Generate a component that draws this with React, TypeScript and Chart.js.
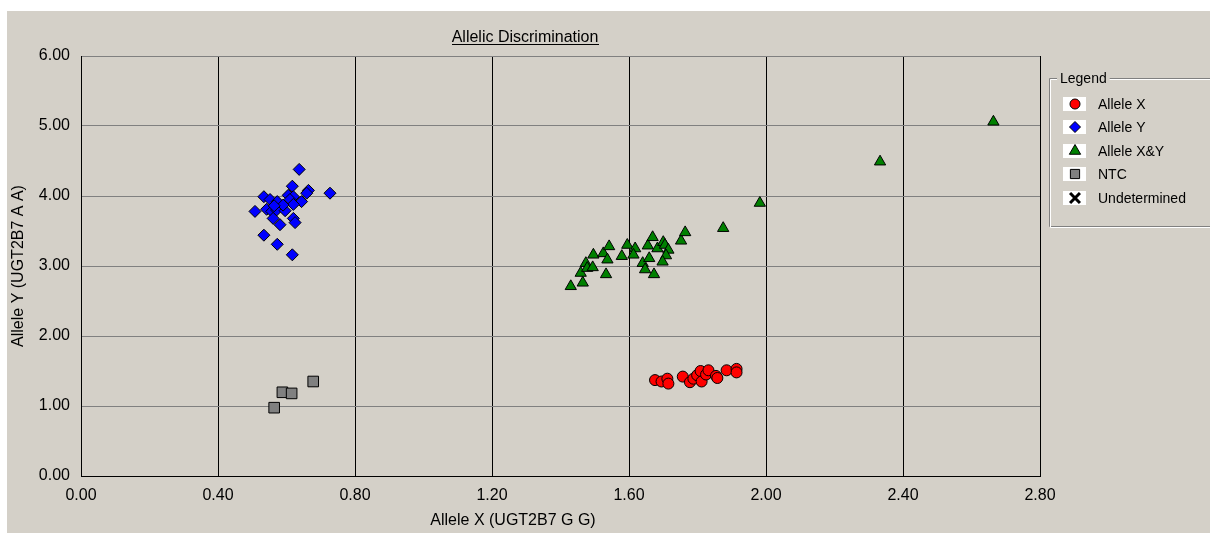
import React, { useEffect, useRef } from 'react';
import { Chart, registerables } from 'chart.js';
import { drawPoint } from 'chart.js/helpers';

Chart.register(...registerables);

const CHART_TITLE = 'Allelic Discrimination';
const X_TITLE = 'Allele X (UGT2B7 G G)';
const Y_TITLE = 'Allele Y (UGT2B7 A A)';
const LEGEND_TITLE = 'Legend';
const SERIES_NAMES = ['Allele X', 'Allele Y', 'Allele X&Y', 'NTC', 'Undetermined'];

const X_TICKS = [0, 0.4, 0.8, 1.2, 1.6, 2.0, 2.4, 2.8];
const X_TICK_LABELS = ['0.00', '0.40', '0.80', '1.20', '1.60', '2.00', '2.40', '2.80'];
const Y_TICKS = [0, 1, 2, 3, 4, 5, 6];
const Y_TICK_LABELS = ['0.00', '1.00', '2.00', '3.00', '4.00', '5.00', '6.00'];

// Allele X (red circles)
const alleleX_x = [1.676, 1.695, 1.712, 1.715, 1.757, 1.778, 1.788, 1.799, 1.809, 1.812, 1.825, 1.832, 1.854, 1.858, 1.885, 1.914, 1.914];
const alleleX_y = [1.37, 1.35, 1.39, 1.32, 1.42, 1.34, 1.39, 1.44, 1.50, 1.35, 1.45, 1.51, 1.43, 1.40, 1.51, 1.53, 1.48];

// Allele Y (blue diamonds)
const alleleY_x = [0.637, 0.727, 0.617, 0.664, 0.659, 0.534, 0.552, 0.573, 0.605, 0.620, 0.610, 0.644, 0.620, 0.508, 0.542, 0.557, 0.571, 0.596, 0.561, 0.581, 0.620, 0.625, 0.534, 0.573, 0.617, 0.590, 0.564];
const alleleY_y = [4.38, 4.04, 4.14, 4.08, 4.04, 3.99, 3.95, 3.92, 4.01, 3.99, 3.95, 3.92, 3.88, 3.78, 3.81, 3.78, 3.80, 3.79, 3.68, 3.59, 3.68, 3.62, 3.44, 3.31, 3.16, 3.87, 3.86];

// Allele X&Y (green triangles)
const alleleXY_x = [1.430, 1.465, 1.459, 1.474, 1.478, 1.494, 1.496, 1.533, 1.525, 1.542, 1.537, 1.579, 1.595, 1.618, 1.613, 1.640, 1.647, 1.659, 1.655, 1.669, 1.673, 1.683, 1.700, 1.705, 1.715, 1.708, 1.698, 1.752, 1.764, 1.875, 1.982, 2.333, 2.664];
const alleleXY_y = [2.71, 2.76, 2.90, 3.04, 2.97, 2.98, 3.16, 2.88, 3.18, 3.28, 3.09, 3.14, 3.30, 3.25, 3.16, 3.04, 2.95, 3.11, 3.29, 3.41, 2.88, 3.25, 3.34, 3.30, 3.23, 3.15, 3.06, 3.36, 3.48, 3.54, 3.90, 4.49, 5.06];

// NTC (grey squares)
const ntc_x = [0.564, 0.588, 0.615, 0.678];
const ntc_y = [0.976, 1.196, 1.18, 1.35];

// Undetermined (none)
const undet_x: number[] = [];
const undet_y: number[] = [];

const pts = (xs: number[], ys: number[]) => xs.map((x, i) => ({ x, y: ys[i] }));

const FONT = '"Liberation Sans", Arial, sans-serif';

const decorPlugin = {
  id: 'decor',
  afterDraw(chart: any) {
    const ctx = chart.ctx as CanvasRenderingContext2D;
    ctx.save();
    ctx.fillStyle = '#000';
    // Title (underlined)
    ctx.font = `16px ${FONT}`;
    ctx.textAlign = 'center';
    ctx.textBaseline = 'alphabetic';
    const tcx = 518, tby = 31;
    ctx.fillText(CHART_TITLE, tcx, tby);
    const tw = ctx.measureText(CHART_TITLE).width;
    ctx.fillRect(Math.round(tcx - tw / 2), tby + 2, Math.round(tw), 1);

    // Axis titles
    ctx.textBaseline = 'middle';
    ctx.fillText(X_TITLE, 506, 510);
    ctx.save();
    ctx.translate(12, 255);
    ctx.rotate(-Math.PI / 2);
    ctx.fillText(Y_TITLE, 0, 0);
    ctx.restore();

    // Legend group box
    const lx = 1042, ly = 67, lb = 215, lr = 1215;
    ctx.font = `14px ${FONT}`;
    const ltw = ctx.measureText(LEGEND_TITLE).width;
    const gapL = 1050, gapR = 1053 + ltw + 3;
    const etch = (color: string, o: number) => {
      ctx.strokeStyle = color;
      ctx.lineWidth = 1;
      ctx.beginPath();
      ctx.moveTo(gapL, ly + o + 0.5);
      ctx.lineTo(lx + o + 0.5, ly + o + 0.5);
      ctx.lineTo(lx + o + 0.5, lb + o + 0.5);
      ctx.lineTo(lr, lb + o + 0.5);
      ctx.moveTo(gapR, ly + o + 0.5);
      ctx.lineTo(lr, ly + o + 0.5);
      ctx.stroke();
    };
    etch('#808080', 0);
    etch('#ffffff', 1);
    ctx.fillStyle = '#000';
    ctx.textAlign = 'left';
    ctx.textBaseline = 'middle';
    ctx.fillText(LEGEND_TITLE, 1053, ly + 1);

    const rows = [93, 116, 140, 163, 187];
    chart.data.datasets.forEach((ds: any, i: number) => {
      const y = rows[i];
      ctx.fillStyle = '#ffffff';
      ctx.fillRect(1056, y - 7, 23, 14);
      ctx.fillStyle = ds.backgroundColor;
      ctx.strokeStyle = ds.borderColor;
      ctx.lineWidth = ds.borderWidth;
      drawPoint(ctx, { pointStyle: ds.pointStyle, rotation: 0, radius: ds.legendRadius, borderWidth: ds.borderWidth }, 1068, y);
      ctx.fillStyle = '#000';
      ctx.font = `14px ${FONT}`;
      ctx.fillText(ds.label, 1091, y + 1);
    });
    ctx.restore();
  },
};

export default function App() {
  const ref = useRef<HTMLCanvasElement>(null);
  useEffect(() => {
    if (!ref.current) return;
    const chart = new Chart(ref.current, {
      type: 'scatter',
      data: {
        datasets: [
          { label: SERIES_NAMES[0], data: pts(alleleX_x, alleleX_y), pointStyle: 'circle', pointRadius: 5.5, backgroundColor: '#ff0000', borderColor: '#000', borderWidth: 1, legendRadius: 5 } as any,
          { label: SERIES_NAMES[1], data: pts(alleleY_x, alleleY_y), pointStyle: 'rectRot', pointRadius: 6, backgroundColor: '#0000ff', borderColor: '#000', borderWidth: 1, legendRadius: 5.5 } as any,
          { label: SERIES_NAMES[2], data: pts(alleleXY_x, alleleXY_y), pointStyle: 'triangle', pointRadius: 6.5, backgroundColor: '#008000', borderColor: '#000', borderWidth: 1, legendRadius: 6.5 } as any,
          { label: SERIES_NAMES[3], data: pts(ntc_x, ntc_y), pointStyle: 'rect', pointRadius: 7.5, backgroundColor: '#808080', borderColor: '#000', borderWidth: 1, legendRadius: 6.5 } as any,
          { label: SERIES_NAMES[4], data: pts(undet_x, undet_y), pointStyle: 'crossRot', pointRadius: 7, backgroundColor: '#000', borderColor: '#000', borderWidth: 3, legendRadius: 7 } as any,
        ],
      },
      options: {
        responsive: false,
        animation: false,
        events: [],
        layout: { padding: { left: 0, top: 45, right: 170, bottom: 0 } },
        plugins: {
          legend: { display: false },
          title: { display: false },
          tooltip: { enabled: false },
        },
        scales: {
          x: {
            type: 'linear',
            min: 0,
            max: 2.8,
            afterBuildTicks: (s: any) => { s.ticks = X_TICKS.map((v) => ({ value: v })); },
            afterFit: (s: any) => { s.height = 57; },
            ticks: {
              callback: (_v: any, i: number) => X_TICK_LABELS[i],
              color: '#000',
              font: { family: FONT, size: 16 },
              padding: 10,
              maxRotation: 0,
              autoSkip: false,
            },
            grid: { color: '#000', lineWidth: 1, drawTicks: false },
            border: { color: '#000', width: 1 },
          },
          y: {
            type: 'linear',
            min: 0,
            max: 6,
            afterBuildTicks: (s: any) => { s.ticks = Y_TICKS.map((v) => ({ value: v })); },
            afterFit: (s: any) => { s.width = 74; },
            ticks: {
              callback: (_v: any, i: number) => Y_TICK_LABELS[i],
              color: '#000',
              font: { family: FONT, size: 16 },
              padding: 11,
              autoSkip: false,
            },
            grid: { color: '#808080', lineWidth: 1, drawTicks: false },
            border: { color: '#000', width: 1 },
          },
        },
      },
      plugins: [decorPlugin],
    });
    return () => chart.destroy();
  }, []);

  return (
    <div style={{ position: 'absolute', left: 0, top: 0, width: 1212, height: 534, background: '#ffffff', overflow: 'hidden' }}>
      <div style={{ position: 'absolute', left: 7, top: 11, width: 1203, height: 522, background: '#d4d0c8' }}>
        <canvas ref={ref} width={1203} height={522} style={{ display: 'block', width: 1203, height: 522 }} />
      </div>
    </div>
  );
}
